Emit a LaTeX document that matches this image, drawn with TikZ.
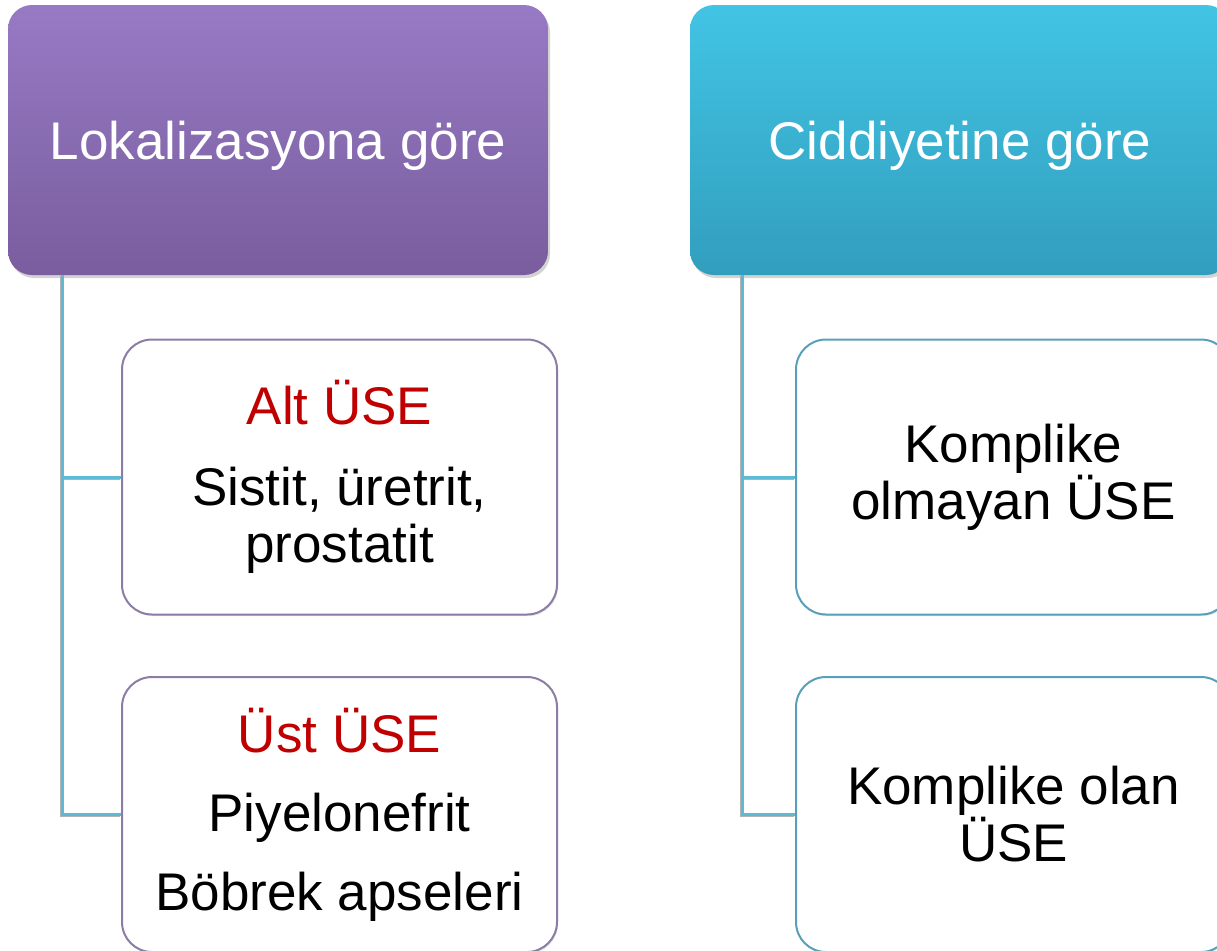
\documentclass[tikz,border=0pt]{standalone}
\usepackage{fontspec}
\setmainfont{Liberation Sans}
\usetikzlibrary{shadows, positioning}

\definecolor{lilaTop}{RGB}{151,122,196}
\definecolor{lilaBot}{RGB}{121,93,158}
\definecolor{turkTop}{RGB}{66,196,228}
\definecolor{turkBot}{RGB}{50,158,190}
\definecolor{lilaKenar}{RGB}{140,124,166}
\definecolor{turkKenar}{RGB}{88,160,186}
\definecolor{bagRenk}{RGB}{92,186,212}
\definecolor{kirmizi}{RGB}{192,0,0}

\tikzset{
  baslik/.style={rectangle, rounded corners=12pt, minimum width=270pt,
    minimum height=135pt, text=white, font=\fontsize{26.5}{28}\selectfont,
    text height=19pt, text depth=0pt,
    drop shadow={opacity=0.35, shadow xshift=1pt, shadow yshift=-1.5pt}},
  kutu/.style={rectangle, rounded corners=15pt, fill=white, line width=1pt,
    minimum width=217.5pt, minimum height=137.5pt, align=center,
    font=\fontsize{26.5}{28.5}\selectfont,
    drop shadow={opacity=0.2, shadow xshift=0.6pt, shadow yshift=-0.8pt}},
  bag/.style={draw=bagRenk, line width=1.5pt,
    preaction={draw=gray!60, line width=1.5pt, transform canvas={xshift=-0.5pt, yshift=-0.5pt}}}
}

\begin{document}
\begin{tikzpicture}[x=0.5pt, y=-0.5pt]
    \useasboundingbox (0,0) rectangle (1217,950);
    \clip (0,0) rectangle (1217,950);

    % basliklar
    \node[baslik, top color=lilaTop, bottom color=lilaBot] (lok) at (278, 140) {Lokalizasyona göre};
    \node[baslik, top color=turkTop, bottom color=turkBot] (cid) at (960, 140) {Ciddiyetine göre};

    % alt kutular
    \node[kutu, draw=lilaKenar] (alt) at (339.5, 477) {{\color{kirmizi}Alt ÜSE}\\[12pt] Sistit, üretrit,\\ prostatit};
    \node[kutu, draw=lilaKenar] (ust) at (339.5, 814.5) {{\color{kirmizi}Üst ÜSE}\\[11pt] Piyelonefrit\\[11pt] Böbrek apseleri};
    \node[kutu, draw=turkKenar] (kom1) at (1013.5, 477) {Komplike\\ olmayan ÜSE};
    \node[kutu, draw=turkKenar] (kom2) at (1013.5, 814.5) {Komplike olan\\ ÜSE};

    \coordinate (govdeL) at (62, 0);
    \coordinate (govdeR) at (742, 0);

    \draw[bag] (govdeL |- lok.south) |- (alt.west);
    \draw[bag] (govdeL |- lok.south) |- (ust.west);
    \draw[bag] (govdeR |- cid.south) |- (kom1.west);
    \draw[bag] (govdeR |- cid.south) |- (kom2.west);
\end{tikzpicture}
\end{document}
